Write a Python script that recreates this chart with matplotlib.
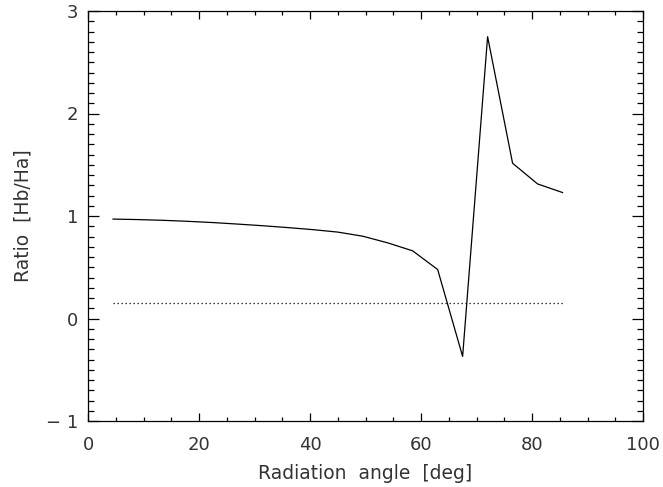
import matplotlib.pyplot as plt
import numpy as np
from matplotlib.ticker import MultipleLocator

# radiation angle [deg] and Hb/Ha ratio
angle = [4.5, 9.0, 13.5, 18.0, 22.5, 27.0, 31.5, 36.0, 40.5, 45.0,
         49.5, 54.0, 58.5, 63.0, 67.5, 72.0, 76.5, 81.0, 85.5]
ratio = [0.970, 0.965, 0.958, 0.948, 0.936, 0.921, 0.905, 0.887, 0.867, 0.843,
         0.803, 0.738, 0.660, 0.478, -0.370, 2.750, 1.515, 1.313, 1.229]
reference = [0.155] * len(angle)


def main():
    fig = plt.figure(figsize=(6.63, 4.87), dpi=100)
    ax = fig.add_axes((88 / 663, 1 - 421 / 487, 555 / 663, 410 / 487))

    ax.plot(angle, ratio, color="black", lw=0.9)
    ax.plot(angle, reference, color="black", lw=0.9, linestyle=(0, (1, 2.2)))

    ax.set_xlim(0, 100)
    ax.set_ylim(-1, 3)
    ax.xaxis.set_major_locator(MultipleLocator(20))
    ax.xaxis.set_minor_locator(MultipleLocator(5))
    ax.yaxis.set_major_locator(MultipleLocator(1))
    ax.yaxis.set_minor_locator(MultipleLocator(0.1))

    ax.tick_params(which="both", direction="in", top=True, right=True,
                   width=0.9, color="black", labelsize=13, labelcolor="#333333")
    ax.tick_params(axis="x", which="major", length=6, pad=11)
    ax.tick_params(axis="x", which="minor", length=3)
    ax.tick_params(axis="y", which="major", length=8, pad=7)
    ax.tick_params(axis="y", which="minor", length=4)
    for s in ax.spines.values():
        s.set_linewidth(0.9)

    ax.set_yticks([-1, 0, 1, 2, 3])
    ax.set_yticklabels(["\u2212 1", "0", "1", "2", "3"])
    ax.set_xlabel("Radiation  angle  [deg]", fontsize=13.5, color="#333333",
                  labelpad=7)
    ax.set_ylabel("Ratio  [Hb/Ha]", fontsize=13.5, color="#333333", labelpad=10)

    plt.savefig("out.png", dpi=100)
    plt.close()


if __name__ == "__main__":
    main()
